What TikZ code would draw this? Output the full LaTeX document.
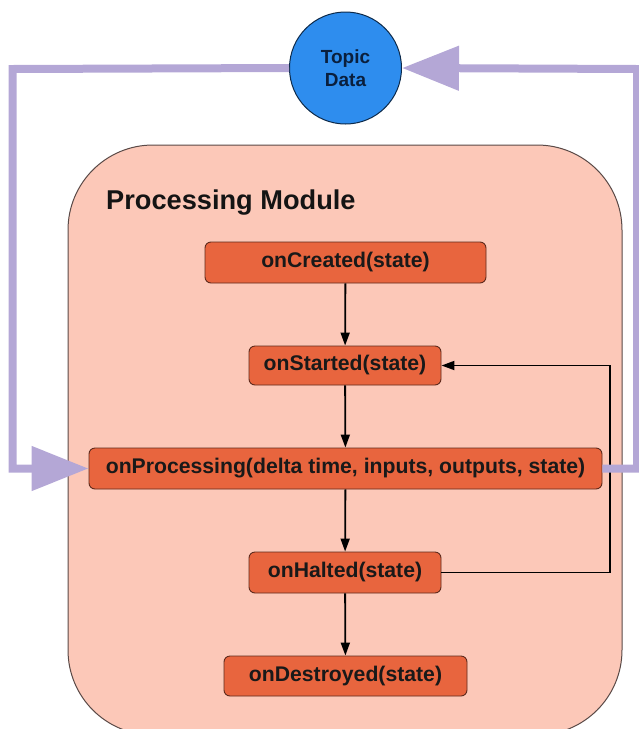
\documentclass[tikz,border=0pt]{standalone}
\usepackage{fontspec}
\setmainfont{Liberation Sans}
\usetikzlibrary{arrows.meta}
\definecolor{flowpurple}{HTML}{B4A7D6}
\definecolor{modfill}{HTML}{FCC8B8}
\definecolor{modborder}{HTML}{5A4A47}
\definecolor{fnfill}{HTML}{E8653E}
\definecolor{fnborder}{HTML}{5E2A1C}
\definecolor{topicfill}{HTML}{2E8DEE}
\definecolor{topicborder}{HTML}{0D2A4A}
\definecolor{topictext}{HTML}{0A1F3D}
\tikzset{
  fnbox/.style={draw=fnborder, fill=fnfill, line width=0.9pt, rounded corners=6pt,
    font=\bfseries\fontsize{21.2}{24}\selectfont, text=black!90, inner sep=0pt, align=center},
  flow/.style={draw=flowpurple, line width=8pt, line join=miter},
  bigtip/.style={-{Triangle[length=57pt,width=43pt]}},
  ctl/.style={draw=black, line width=1.8pt, -{Triangle[length=13pt,width=9pt]}},
}
\begin{document}
\begin{tikzpicture}[x=1pt,y=-1pt]
\useasboundingbox (0,0) rectangle (639,729);
% module
\draw[fill=modfill, draw=modborder, line width=1pt, rounded corners=85pt] (68,145) rectangle (622,735);
\node[anchor=base west, font=\bfseries\fontsize{27.2}{30}\selectfont, text=black!92, inner xsep=0pt] (title) at (106,209) {Processing Module};
% topic
\node[circle, minimum size=112pt, inner sep=0pt, fill=topicfill, draw=topicborder, line width=1pt,
  font=\bfseries\fontsize{19}{23}\selectfont, text=topictext, align=center] (topic) at (345.5,68) {Topic\\Data};
% functions
\node[fnbox, minimum width=281pt, minimum height=41pt] (created) at (345.5,262.5) {onCreated(state)};
\node[fnbox, minimum width=192pt, minimum height=39pt] (started) at (345,365.5) {onStarted(state)};
\node[fnbox, minimum width=513pt, minimum height=41pt] (proc) at (345.5,468.5) {onProcessing(delta time, inputs, outputs, state)};
\node[fnbox, minimum width=192pt, minimum height=41pt] (halted) at (345,572.5) {onHalted(state)};
\node[fnbox, minimum width=243pt, minimum height=40pt] (destroyed) at (345.5,676) {onDestroyed(state)};
% control arrows
\draw[ctl] (created) -- (started);
\draw[ctl] (started) -- (proc);
\draw[ctl] (proc) -- (halted);
\draw[ctl] (halted) -- (destroyed);
\coordinate (loopR) at (610,572.5);
\draw[ctl, line join=miter] (halted.east) -- (loopR) |- (started.east);
% data flow
\coordinate (flowL) at (12.5,69);
\coordinate (flowR) at (637,69);
\draw[flow, bigtip] (topic.west) -- (flowL) |- (proc.west);
\draw[flow, bigtip] (proc.east) -| (flowR) -- (topic.east);
\end{tikzpicture}
\end{document}
